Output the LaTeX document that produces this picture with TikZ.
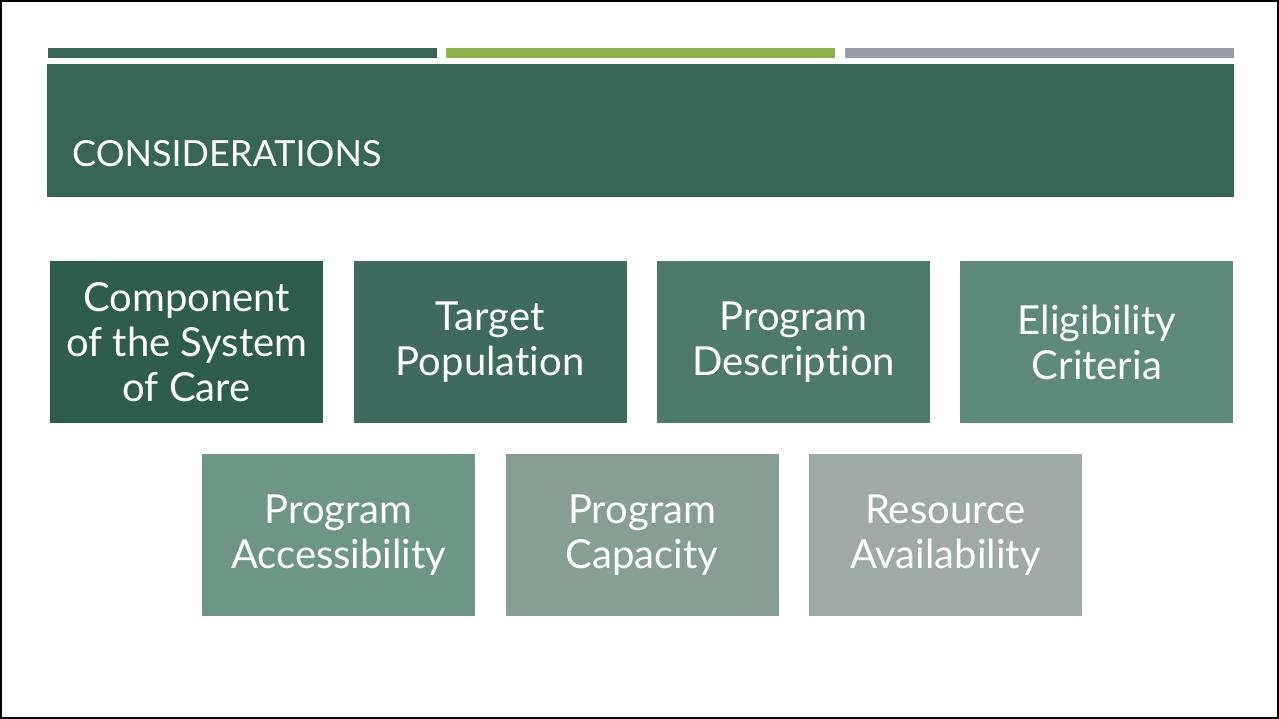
\documentclass[tikz,border=0pt]{standalone}
\usepackage{fontspec}
\setmainfont{Lato}[Ligatures=NoCommon]
\usetikzlibrary{positioning}
\definecolor{bandgreen}{HTML}{376656}
\definecolor{barlime}{HTML}{8DB54A}
\definecolor{bargray}{HTML}{969DA6}
\definecolor{tileA}{HTML}{2F5D4D}
\definecolor{tileB}{HTML}{3E6B5D}
\definecolor{tileC}{HTML}{4E7A6B}
\definecolor{tileD}{HTML}{5E8A7B}
\definecolor{tileE}{HTML}{6E9687}
\definecolor{tileF}{HTML}{879E95}
\definecolor{tileG}{HTML}{9FA9A5}

\begin{document}
\begin{tikzpicture}[x=1pt,y=-1pt,
    tile/.style={anchor=north west,minimum width=273pt,minimum height=162pt,
      inner sep=0pt,align=center,text=white,font=\fontsize{40}{45}\selectfont}]
  \useasboundingbox (0,0) rectangle (1279,719);
  \draw[line width=2pt] (1,1) rectangle (1278,718);
  % top bars and title band
  \fill[bandgreen] (48,48) rectangle (437,58);
  \fill[barlime] (446,48) rectangle (835,58);
  \fill[bargray] (845,48) rectangle (1234,58);
  \fill[bandgreen] (47,64) rectangle (1234,197);
  \node[anchor=base west,inner sep=0pt,text=white,font=\fontsize{36}{40}\selectfont] (title) at (72,167) {CONSIDERATIONS};
  % first row
  \node[tile,fill=tileA] (comp) at (50,261) {Component\\of the System\\of Care};
  \node[tile,fill=tileB,right=30pt of comp] (target) {Target\\Population};
  \node[tile,fill=tileC,right=30pt of target] (desc) {Program\\Description};
  \node[tile,fill=tileD,right=30pt of desc] (elig) {Eligibility\\Criteria};
  % second row
  \node[tile,fill=tileE] (access) at (202,454) {Program\\Accessibility};
  \node[tile,fill=tileF,right=30pt of access] (capac) {Program\\Capacity};
  \node[tile,fill=tileG,right=30pt of capac] (resrc) {Resource\\Availability};
\end{tikzpicture}
\end{document}
